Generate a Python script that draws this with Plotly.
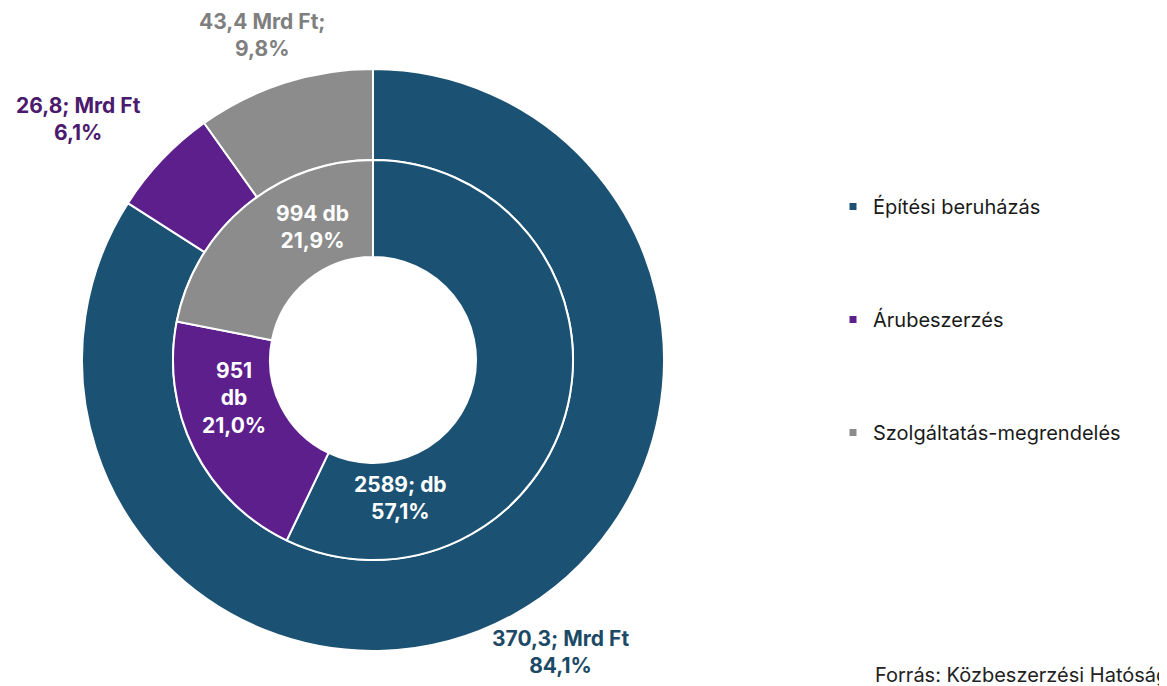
import plotly.graph_objects as go

categories = ["Építési beruházás", "Árubeszerzés", "Szolgáltatás-megrendelés"]
value_mrd_ft = [370.3, 26.8, 43.4]
share_value = ["84,1%", "6,1%", "9,8%"]
count_db = [2589, 951, 994]
share_count = ["57,1%", "21,0%", "21,9%"]
colors = ["#1B5273", "#5C1F8C", "#8C8C8C"]
label_colors = ["#1C4A66", "#4B1A6E", "#7F7F7F"]
source_text = "Forrás: Közbeszerzési Hatóság"

OFF = 8  # page body margin
W, H = 1167 - OFF, 686 - OFF
cx, cy = 373 - OFF, 360 - OFF
r_out, r_in, r_hole = 291, 200, 103


def dom(r):
    return dict(x=[(cx - r) / W, (cx + r) / W], y=[1 - (cy + r) / H, 1 - (cy - r) / H])


fig = go.Figure()
fig.add_trace(go.Pie(
    labels=categories, values=value_mrd_ft, hole=r_in / r_out, domain=dom(r_out),
    sort=False, direction="clockwise", rotation=0, textinfo="none",
    marker=dict(colors=colors, line=dict(color="white", width=2)),
    showlegend=False, hoverinfo="label+value"))
fig.add_trace(go.Pie(
    labels=categories, values=count_db, hole=r_hole / r_in, domain=dom(r_in),
    sort=False, direction="clockwise", rotation=0, textinfo="none",
    marker=dict(colors=colors, line=dict(color="white", width=2)),
    showlegend=False, hoverinfo="label+value"))

# legend entries
for i, c in enumerate(categories):
    fig.add_trace(go.Scatter(x=[None], y=[None], mode="markers", name=c,
                             legendgroup=c,
                             marker=dict(symbol="square", size=7, color=colors[i])))


def px(x, y):
    # page pixel -> paper coords
    return (x - OFF) / W, 1 - (y - OFF) / H


fmt = lambda v: f"{v:.1f}".replace(".", ",")
bold = dict(family="Inter, sans-serif", size=21)
ann = []
outer_pos = [(560, 652), (78, 119), (262, 35)]
outer_text = [
    f"<b>{fmt(value_mrd_ft[0])}; Mrd Ft<br>{share_value[0]}</b>",
    f"<b>{fmt(value_mrd_ft[1])}; Mrd Ft<br>{share_value[1]}</b>",
    f"<b>{fmt(value_mrd_ft[2])} Mrd Ft;<br>{share_value[2]}</b>",
]
for i in range(3):
    x, y = px(*outer_pos[i])
    ann.append(dict(x=x, y=y, xref="paper", yref="paper", text=outer_text[i],
                    xanchor="center", yanchor="middle",
                    showarrow=False, font=dict(bold, color=label_colors[i]), align="center"))
inner_text = [
    f"<b>{count_db[0]}; db<br>{share_count[0]}</b>",
    f"<b>{count_db[1]}<br>db<br>{share_count[1]}</b>",
    f"<b>{count_db[2]} db<br>{share_count[2]}</b>",
]
inner_pos = [(400, 498), (234, 398), (312, 227)]
for i in range(3):
    x, y = px(*inner_pos[i])
    ann.append(dict(x=x, y=y, xref="paper", yref="paper", text=inner_text[i],
                    xanchor="center", yanchor="middle",
                    showarrow=False, font=dict(bold, color="white"), align="center"))
x, y = px(873, 675)
ann.append(dict(x=x, y=y, xref="paper", yref="paper", text=source_text,
                xanchor="left", yanchor="middle", showarrow=False,
                font=dict(family="Inter, sans-serif", size=20, color="#222222")))

lx, ly = px(833, 187)
fig.update_layout(
    width=W, height=H, margin=dict(l=0, r=0, t=0, b=0),
    paper_bgcolor="white", plot_bgcolor="white",
    xaxis=dict(visible=False), yaxis=dict(visible=False),
    annotations=ann,
    legend=dict(x=lx, y=ly, xanchor="left", yanchor="top",
                font=dict(family="Inter, sans-serif", size=20, color="#1a1a1a"),
                tracegroupgap=84, itemwidth=30, bgcolor="rgba(0,0,0,0)"),
)

fig.write_html("out.html")
